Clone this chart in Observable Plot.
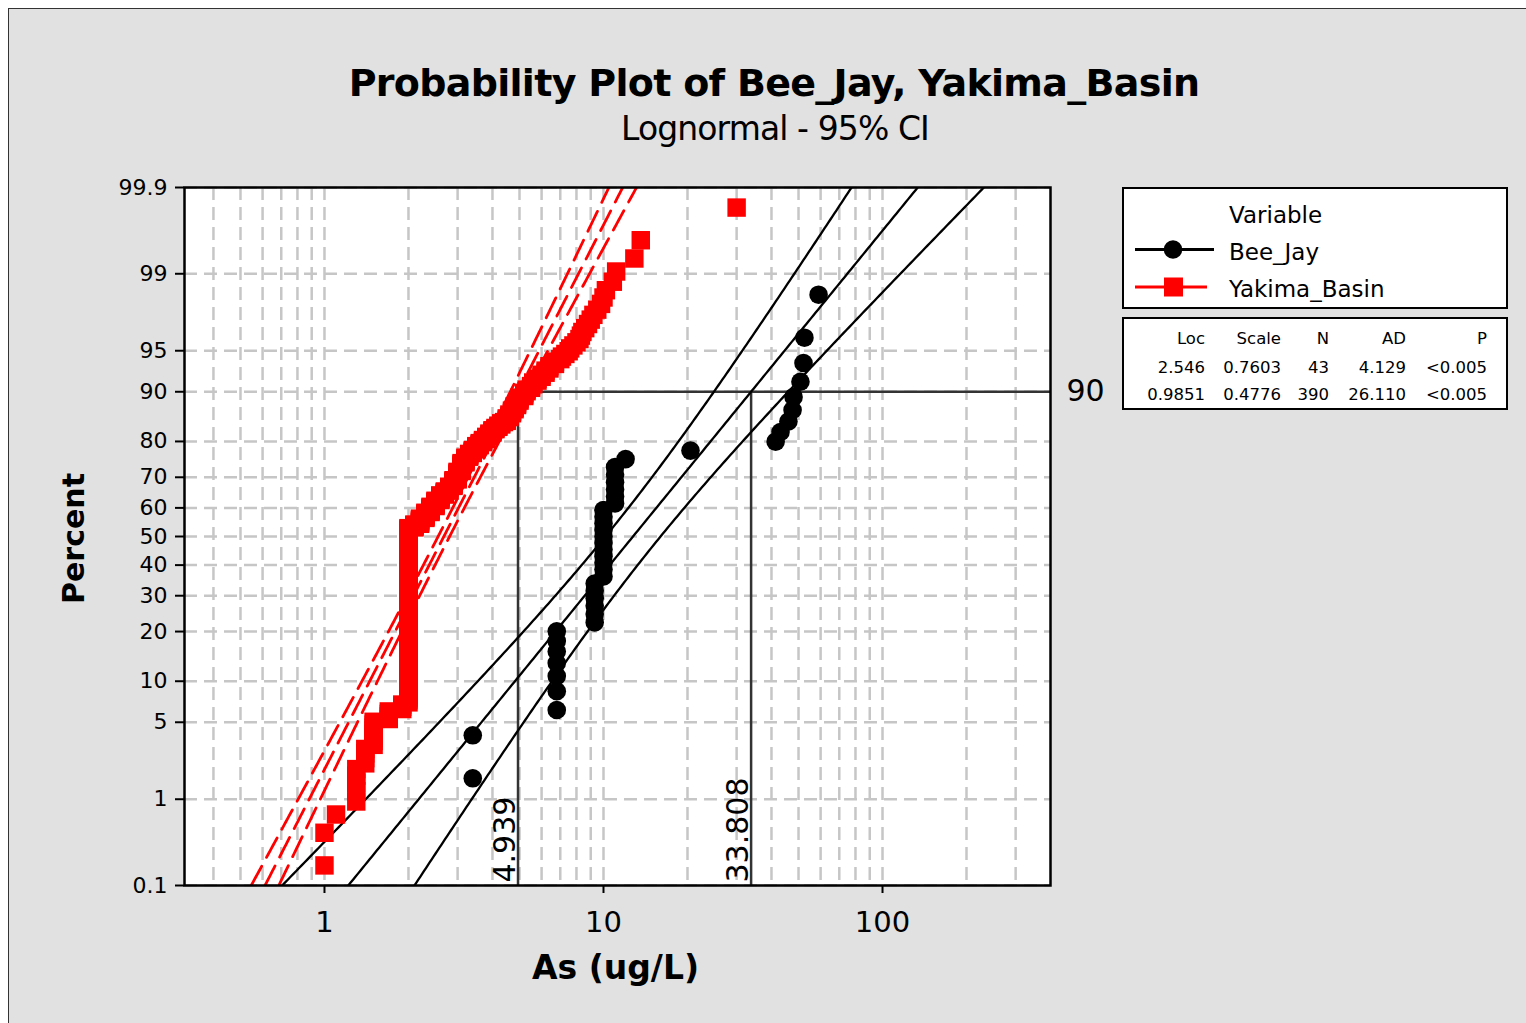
<!DOCTYPE html>
<html>
<head>
<meta charset="utf-8">
<script src="https://cdn.jsdelivr.net/npm/d3@7"></script>
<script src="https://cdn.jsdelivr.net/npm/@observablehq/plot@0.6"></script>
<style>
html,body{margin:0;padding:0;background:#fff;width:1526px;height:1023px;overflow:hidden;font-family:"DejaVu Sans",sans-serif;}
#bg{position:absolute;left:8px;top:8px;width:1600px;height:1100px;background:#e1e1e1;border-top:1.5px solid #333;border-left:1.5px solid #333;}
#chart{position:absolute;left:0;top:0;}
.t{position:absolute;white-space:nowrap;color:#000;font-family:"DejaVu Sans",sans-serif;}
.box{position:absolute;background:#fff;border:2.5px solid #000;box-sizing:border-box;}
.r{text-align:right;width:200px;}
</style>
</head>
<body>
<div id="bg"></div>
<div id="chart"></div>
<div id="overlay"></div>
<script>
// ---------------- DATA ----------------
const title = "Probability Plot of Bee_Jay, Yakima_Basin";
const subtitle = "Lognormal - 95% CI";
const xLabel = "As (ug/L)";
const yLabel = "Percent";

const seriesNames = ["Bee_Jay", "Yakima_Basin"];
const seriesColors = ["#000000", "#ff0000"];
const locs = [2.546, 0.9851];
const scales = [0.7603, 0.4776];
const ns = [43, 390];
const adValues = ["4.129", "26.110"];
const pValues = ["<0.005", "<0.005"];
const locLabels = ["2.546", "0.9851"];
const scaleLabels = ["0.7603", "0.4776"];

// Bee_Jay observations (ug/L), sorted
const beeJay = [3.4, 3.4,
  6.8, 6.8, 6.8, 6.8, 6.8, 6.8, 6.8,
  9.3, 9.3, 9.3, 9.3, 9.3, 9.3,
  10, 10, 10, 10, 10, 10, 10, 10, 10, 10, 10,
  11, 11, 11, 11, 11, 11,
  12, 20.5,
  41.4, 43.1, 46.0, 47.6, 48.0, 50.8, 52.1, 52.5, 59.0];

// Yakima_Basin observations as (value, count) runs, sorted
const yakimaValues = [1.0, 1.1, 1.3, 1.4, 1.5, 1.7, 1.9, 2.0,
  2.1, 2.2, 2.3, 2.4, 2.5, 2.6, 2.7, 2.8, 2.9, 3.0, 3.1, 3.2, 3.3, 3.4, 3.5, 3.6, 3.7, 3.8, 3.9,
  4.0, 4.1, 4.2, 4.3, 4.4, 4.5, 4.6, 4.7, 4.8, 4.9, 5.0, 5.2, 5.3, 5.5, 5.6, 5.8, 6.0, 6.2, 6.4, 6.7,
  7.0, 7.1, 7.3, 7.5, 7.6, 7.8, 8.0, 8.2, 8.3, 8.4, 8.6, 8.8, 9.0, 9.2, 9.5, 9.8, 10.0, 10.2, 10.8, 11.1,
  12.9, 13.6, 30];
const yakimaCounts = [2, 1, 5, 4, 8, 4, 3, 180,
  5, 8, 8, 8, 8, 7, 5, 6, 8, 10, 10, 6, 4, 4, 4, 3, 3, 3, 3,
  3, 2, 2, 2, 1, 3, 3, 3, 3, 3, 3, 3, 2, 2, 2, 2, 2, 2, 2, 2,
  1, 1, 1, 1, 1, 1, 1, 1, 1, 1, 1, 1, 1, 1, 1, 1, 1, 1, 1, 1,
  1, 1, 1];

// percentile reference
const refPercent = 90;
const refValues = [4.939, 33.808];
const refLabels = ["4.939", "33.808"];

// axes
const yTickPercents = [0.1, 1, 5, 10, 20, 30, 40, 50, 60, 70, 80, 90, 95, 99, 99.9];
const yTickLabels = ["0.1", "1", "5", "10", "20", "30", "40", "50", "60", "70", "80", "90", "95", "99", "99.9"];
const xTickValues = [1, 10, 100];
const xTickLabels = ["1", "10", "100"];
const xGridValues = [0.4, 0.5, 0.6, 0.7, 0.8, 0.9, 1, 2, 3, 4, 5, 6, 7, 8, 9,
  10, 20, 30, 40, 50, 60, 70, 80, 90, 100, 200, 300];
const xDomain = [0.315, 400];

// ---------------- HELPERS ----------------
function probit(p) {
  const a = [-3.969683028665376e+01, 2.209460984245205e+02, -2.759285104469687e+02, 1.383577518672690e+02, -3.066479806614716e+01, 2.506628277459239e+00];
  const b = [-5.447609879822406e+01, 1.615858368580409e+02, -1.556989798598866e+02, 6.680131188771972e+01, -1.328068155288572e+01];
  const c = [-7.784894002430293e-03, -3.223964580411365e-01, -2.400758277161838e+00, -2.549671010229528e+00, 4.374664141464968e+00, 2.938163982698783e+00];
  const d = [7.784695709041462e-03, 3.224671290700398e-01, 2.445134137142996e+00, 3.754408661907416e+00];
  const pl = 0.02425, ph = 1 - pl;
  if (p < pl) { const q = Math.sqrt(-2 * Math.log(p)); return (((((c[0]*q+c[1])*q+c[2])*q+c[3])*q+c[4])*q+c[5])/((((d[0]*q+d[1])*q+d[2])*q+d[3])*q+1); }
  if (p <= ph) { const q = p - 0.5, r = q*q; return (((((a[0]*r+a[1])*r+a[2])*r+a[3])*r+a[4])*r+a[5])*q/(((((b[0]*r+b[1])*r+b[2])*r+b[3])*r+b[4])*r+1); }
  const q = Math.sqrt(-2 * Math.log(1 - p)); return -(((((c[0]*q+c[1])*q+c[2])*q+c[3])*q+c[4])*q+c[5])/((((d[0]*q+d[1])*q+d[2])*q+d[3])*q+1);
}
const zMin = probit(0.001), zMax = probit(0.999);
const yTickZ = yTickPercents.map(p => probit(p / 100));

// expand runs
const yakima = [];
yakimaValues.forEach((v, k) => { for (let j = 0; j < yakimaCounts[k]; j++) yakima.push(v); });

function plotPositions(values) {
  const n = values.length;
  return values.map((v, i) => ({v, z: probit((i + 1 - 0.3) / (n + 0.4))}));
}
const beePts = plotPositions(beeJay);
const yakPts = plotPositions(yakima);

// fitted line + 95% CI from Loc / Scale / N
function fitCurves(k) {
  const mu = locs[k], s = scales[k], n = ns[k], out = [];
  const steps = 240;
  for (let j = 0; j <= steps; j++) {
    const z = zMin + (zMax - zMin) * j / steps;
    const se = s * Math.sqrt(1 / n + z * z / (2 * n));
    out.push({z, fit: Math.exp(mu + s * z), lo: Math.exp(mu + s * z - 1.96 * se), hi: Math.exp(mu + s * z + 1.96 * se)});
  }
  return out;
}
const beeFit = fitCurves(0);
const yakFit = fitCurves(1);

// ---------------- PLOT ----------------
const W = 1526, H = 1023;
const frameL = 184, frameR = 1050, frameT = 187, frameB = 885;
const gridStyle = {stroke: "#c6c6c6", strokeWidth: 2.5, strokeDasharray: "13,7"};
const redLine = {stroke: "#ff0000", strokeWidth: 2.8, strokeDasharray: "22,10", clip: true};
const blackLine = {stroke: "#000", strokeWidth: 2.3, clip: true};

const chart = Plot.plot({
  width: W, height: H,
  marginLeft: frameL, marginRight: W - frameR, marginTop: frameT, marginBottom: H - frameB,
  style: {background: "transparent", fontFamily: "DejaVu Sans", color: "#000", overflow: "visible"},
  x: {type: "log", domain: xDomain},
  y: {type: "linear", domain: [zMin, zMax]},
  marks: [
    Plot.frame({fill: "#fff", stroke: "none"}),
    Plot.ruleX(xGridValues, {x: d => d, ...gridStyle}),
    Plot.ruleY(yTickPercents, {y: p => probit(p / 100), ...gridStyle}),
    // percentile reference lines
    Plot.ruleX(refValues, {x: d => d, y1: () => zMin, y2: () => probit(refPercent / 100), stroke: "#333", strokeWidth: 2.5}),
    Plot.ruleY([refPercent], {y: p => probit(p / 100), x1: () => d3.min(refValues), x2: () => xDomain[1], stroke: "#333", strokeWidth: 2.5}),
    // Bee_Jay fit and CI
    Plot.line(beeFit, {x: "lo", y: "z", ...blackLine}),
    Plot.line(beeFit, {x: "fit", y: "z", ...blackLine}),
    Plot.line(beeFit, {x: "hi", y: "z", ...blackLine}),
    // Yakima fit and CI
    Plot.line(yakFit, {x: "lo", y: "z", ...redLine}),
    Plot.line(yakFit, {x: "fit", y: "z", ...redLine}),
    Plot.line(yakFit, {x: "hi", y: "z", ...redLine}),
    // points
    Plot.dot(yakPts, {x: "v", y: "z", symbol: "square", r: 10.4, fill: seriesColors[1], stroke: "none"}),
    Plot.dot(beePts, {x: "v", y: "z", symbol: "circle", r: 9.3, fill: seriesColors[0], stroke: "none"}),
    Plot.frame({stroke: "#000", strokeWidth: 2.5}),
    // axes
    Plot.axisY(yTickZ, {tickSize: 9, tickPadding: 8, fontSize: 22, strokeWidth: 2, label: null,
      tickFormat: z => yTickLabels[yTickZ.indexOf(z)]}),
    Plot.axisX(xTickValues, {tickSize: 8, tickPadding: 18, fontSize: 29, strokeWidth: 2, label: null,
      tickFormat: v => xTickLabels[xTickValues.indexOf(v)]}),
    // reference labels
    Plot.text(refValues, {x: d => d, y: () => zMin, text: (d, i) => refLabels[i], rotate: -90, textAnchor: "start",
      lineAnchor: "bottom", fontSize: 30, dx: -3, dy: -3, fill: "#000"}),
    Plot.text([refPercent], {x: () => xDomain[1], y: p => probit(p / 100), text: p => String(p), textAnchor: "start",
      lineAnchor: "middle", fontSize: 30, dx: 16, fill: "#000"}),
    // axis titles
    Plot.text([yLabel], {frameAnchor: "left", text: d => d, rotate: -90, textAnchor: "middle", lineAnchor: "middle",
      dx: -110, dy: 2, fontSize: 30, fontWeight: "bold", fill: "#000"}),
    Plot.text([xLabel], {frameAnchor: "bottom", text: d => d, textAnchor: "middle", lineAnchor: "middle",
      dy: 83, dx: -2, fontSize: 33, fontWeight: "bold", fill: "#000"})
  ]
});
document.getElementById("chart").appendChild(chart);

// ---------------- TITLES & LEGEND ----------------
const ov = document.getElementById("overlay");
function addText(txt, opts) {
  const el = document.createElement("div");
  el.className = "t" + (opts.right ? " r" : "");
  el.textContent = txt;
  const fs = opts.size;
  el.style.fontSize = fs + "px";
  el.style.lineHeight = fs + "px";
  if (opts.bold) el.style.fontWeight = "bold";
  if (opts.ls) el.style.letterSpacing = opts.ls + "px";
  el.style.top = (opts.baseline - 0.846 * fs) + "px";
  if (opts.center !== undefined) { el.style.left = (opts.center - 1000) + "px"; el.style.width = "2000px"; el.style.textAlign = "center"; }
  else if (opts.right) { el.style.left = (opts.x - 200) + "px"; }
  else el.style.left = opts.x + "px";
  ov.appendChild(el);
}
addText(title, {size: 38, bold: true, ls: -0.7, center: 774, baseline: 96});
addText(subtitle, {size: 33, ls: -0.9, center: 775, baseline: 140});

// legend box 1
const box1 = document.createElement("div");
box1.className = "box";
Object.assign(box1.style, {left: "1122px", top: "187px", width: "386px", height: "122px"});
ov.appendChild(box1);
addText("Variable", {size: 23, x: 1229, baseline: 223});
const legendBaselines = [260, 297];
const legendY = [249.5, 287];
const sym = document.createElementNS("http://www.w3.org/2000/svg", "svg");
sym.setAttribute("width", "1526"); sym.setAttribute("height", "1023");
sym.style.position = "absolute"; sym.style.left = "0"; sym.style.top = "0";
seriesNames.forEach((name, k) => {
  addText(name, {size: 23, x: 1229, baseline: legendBaselines[k]});
  const ln = document.createElementNS(sym.namespaceURI, "line");
  ln.setAttribute("x1", 1135); ln.setAttribute("x2", k === 0 ? 1214 : 1207);
  ln.setAttribute("y1", legendY[k]); ln.setAttribute("y2", legendY[k]);
  ln.setAttribute("stroke", seriesColors[k]); ln.setAttribute("stroke-width", 3);
  sym.appendChild(ln);
  let m;
  if (k === 0) {
    m = document.createElementNS(sym.namespaceURI, "circle");
    m.setAttribute("cx", 1173); m.setAttribute("cy", legendY[k]); m.setAttribute("r", 9.3);
  } else {
    m = document.createElementNS(sym.namespaceURI, "rect");
    m.setAttribute("x", 1164); m.setAttribute("y", legendY[k] - 9.5); m.setAttribute("width", 19); m.setAttribute("height", 19);
  }
  m.setAttribute("fill", seriesColors[k]);
  sym.appendChild(m);
});
ov.appendChild(sym);

// legend box 2 (statistics table)
const box2 = document.createElement("div");
box2.className = "box";
Object.assign(box2.style, {left: "1122px", top: "317px", width: "386px", height: "93px"});
ov.insertBefore(box2, sym);
const colRight = [1205, 1281, 1329, 1406, 1487];
const headers = ["Loc", "Scale", "N", "AD", "P"];
headers.forEach((h, j) => addText(h, {size: 16.5, x: colRight[j], right: true, baseline: 345}));
const rowBase = [374, 401];
seriesNames.forEach((name, k) => {
  const row = [locLabels[k], scaleLabels[k], String(ns[k]), adValues[k], pValues[k]];
  row.forEach((v, j) => addText(v, {size: 16.5, x: colRight[j], right: true, baseline: rowBase[k]}));
});
</script>
</body>
</html>
